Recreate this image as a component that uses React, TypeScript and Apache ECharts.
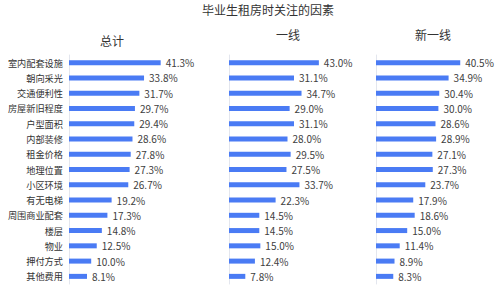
import React, { useEffect, useRef } from "react";
import * as echarts from "echarts";

const categories = [
  "室内配套设施", "朝向采光", "交通便利性", "房屋新旧程度", "户型面积", "内部装修", "租金价格",
  "地理位置", "小区环境", "有无电梯", "周围商业配套", "楼层", "物业", "押付方式", "其他费用",
];
const totalValues = [41.3, 33.8, 31.7, 29.7, 29.4, 28.6, 27.8, 27.3, 26.7, 19.2, 17.3, 14.8, 12.5, 10.0, 8.1];
const tier1Values = [43.0, 31.1, 34.7, 29.0, 31.1, 28.0, 29.5, 27.5, 33.7, 22.3, 14.5, 14.5, 15.0, 12.4, 7.8];
const newTier1Values = [40.5, 34.9, 30.4, 30.0, 28.6, 28.9, 27.1, 27.3, 23.7, 17.9, 18.6, 15.0, 11.4, 8.9, 8.3];
const panelTitles = ["总计", "一线", "新一线"];
const mainTitle = "毕业生租房时关注的因素";

const FONT = "'Noto Sans CJK SC', 'Noto Sans', sans-serif";
const BLUE = "#4a7bf4";

export default function App() {
  const ref = useRef<HTMLDivElement>(null);
  useEffect(() => {
    if (!ref.current) return;
    const chart = echarts.init(ref.current, undefined, { renderer: "svg" });
    const grids = [
      { left: 69, width: 111 },
      { left: 229, width: 104.5 },
      { left: 376, width: 104 },
    ];
    const datasets = [totalValues, tier1Values, newTier1Values];
    const titleStyle = { fontSize: 12, fontWeight: "normal", color: "#333", fontFamily: FONT, lineHeight: 14 };
    chart.setOption({
      animation: false,
      backgroundColor: "#ffffff",
      textStyle: { fontFamily: FONT },
      title: [
        { text: mainTitle, left: 268, top: 2, padding: 0, textAlign: "center", textStyle: titleStyle },
        { text: panelTitles[0], left: 112, top: 33, padding: 0, textAlign: "center", textStyle: titleStyle },
        { text: panelTitles[1], left: 288, top: 27, padding: 0, textAlign: "center", textStyle: titleStyle },
        { text: panelTitles[2], left: 433, top: 27, padding: 0, textAlign: "center", textStyle: titleStyle },
      ],
      grid: grids.map((g) => ({ left: g.left, width: g.width, top: 55, height: 229 })),
      xAxis: grids.map((_, i) => ({
        type: "value",
        gridIndex: i,
        min: 0,
        max: 50,
        show: false,
      })),
      yAxis: grids.map((_, i) => ({
        type: "category",
        gridIndex: i,
        data: categories,
        inverse: true,
        axisLine: { show: true, lineStyle: { color: "#e3e6ee", width: 1 } },
        axisTick: { show: false },
        axisLabel: {
          show: i === 0,
          fontSize: 9.2,
          color: "#333",
          margin: 6,
          fontFamily: FONT,
        },
      })),
      series: datasets.map((d, i) => ({
        type: "bar",
        xAxisIndex: i,
        yAxisIndex: i,
        data: d,
        barWidth: 5,
        itemStyle: { color: BLUE },
        label: {
          show: true,
          position: "right",
          distance: 5,
          fontSize: 10,
          color: "#404040",
          fontFamily: FONT,
          formatter: (p: any) => Number(p.value).toFixed(1) + "%",
        },
      })),
    });
    return () => chart.dispose();
  }, []);
  return <div ref={ref} style={{ width: 500, height: 288, position: "absolute", left: 0, top: 0 }} />;
}
